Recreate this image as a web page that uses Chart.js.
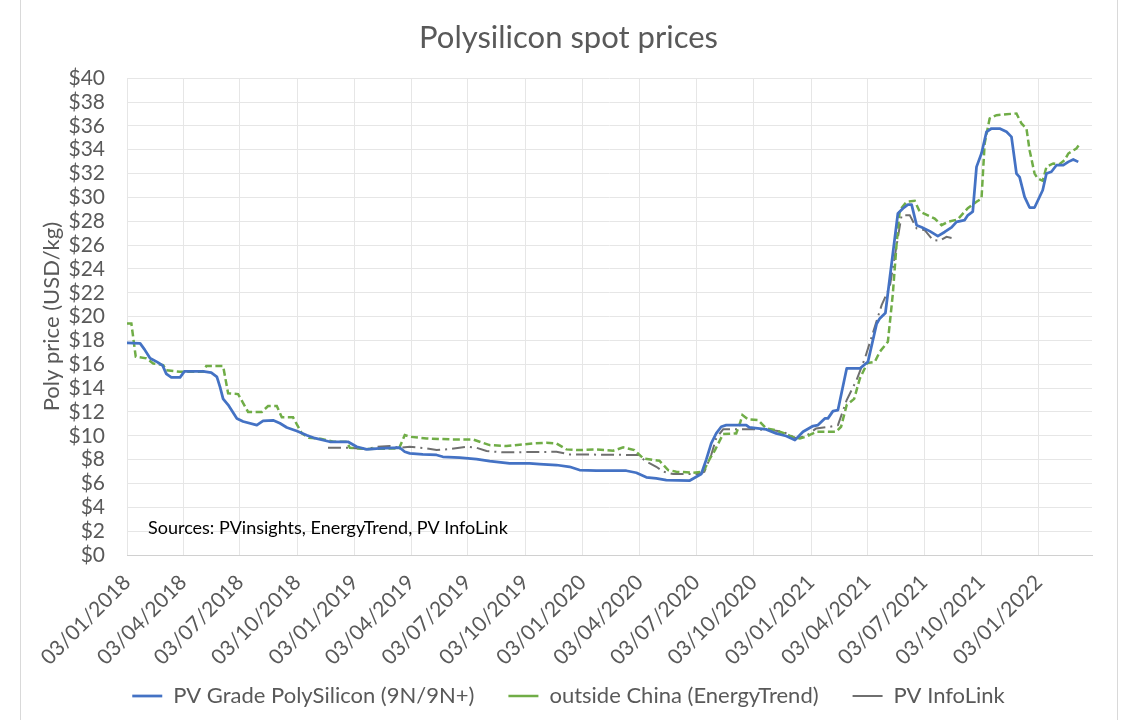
<!DOCTYPE html>
<html>
<head>
<meta charset="utf-8">
<script src="https://cdn.jsdelivr.net/npm/chart.js@4.4.1/dist/chart.umd.min.js"></script>
<style>
html, body { margin: 0; padding: 0; background: #ffffff; }
#wrap { position: relative; width: 1127px; height: 720px; overflow: hidden; }
#frame { position: absolute; left: 20px; top: -2px; width: 1096px; height: 723px; border: 1px solid #d9d9d9; pointer-events: none; }
canvas { display: block; }
</style>
</head>
<body>
<div id="wrap"><canvas id="chart" width="1127" height="720"></canvas><div id="frame"></div></div>
<script>
const chartTitle = 'Polysilicon spot prices';
const yAxisTitle = 'Poly price (USD/kg)';
const sourcesNote = 'Sources: PVinsights, EnergyTrend, PV InfoLink';
const seriesNames = ['PV Grade PolySilicon (9N/9N+)', 'outside China (EnergyTrend)', 'PV InfoLink'];

const xTickLabels = ['03/01/2018','03/04/2018','03/07/2018','03/10/2018','03/01/2019','03/04/2019','03/07/2019','03/10/2019',
  '03/01/2020','03/04/2020','03/07/2020','03/10/2020','03/01/2021','03/04/2021','03/07/2021','03/10/2021','03/01/2022'];
const xRangeStart = '2018-01-03';
const xRangeEnd = '2022-03-29';
const yTickValues = [0,2,4,6,8,10,12,14,16,18,20,22,24,26,28,30,32,34,36,38,40];

// PV Grade PolySilicon (9N/9N+)
const blueDates = [
  '2018-01-03','2018-01-24','2018-01-31','2018-02-09','2018-02-20','2018-03-01','2018-03-07','2018-03-15',
  '2018-03-29','2018-04-05','2018-05-05','2018-05-18','2018-05-27','2018-06-01','2018-06-06','2018-06-14',
  '2018-06-28','2018-07-08','2018-07-30','2018-08-09','2018-08-25','2018-09-05','2018-09-16','2018-10-02',
  '2018-10-18','2018-10-31','2018-11-24','2018-12-23','2019-01-06','2019-01-22','2019-02-12','2019-03-16',
  '2019-03-24','2019-04-01','2019-04-22','2019-05-14','2019-05-24','2019-06-20','2019-07-17','2019-08-07',
  '2019-09-08','2019-10-10','2019-10-26','2019-11-22','2019-12-13','2019-12-29','2020-01-25','2020-03-13',
  '2020-03-29','2020-04-14','2020-04-30','2020-05-16','2020-06-22','2020-07-11','2020-07-19','2020-07-27',
  '2020-08-04','2020-08-12','2020-08-20','2020-09-21','2020-09-26','2020-10-23','2020-11-08','2020-11-24',
  '2020-12-08','2020-12-21','2021-01-06','2021-01-14','2021-01-25','2021-01-30','2021-02-07','2021-02-15',
  '2021-03-01','2021-03-22','2021-04-04','2021-04-18','2021-04-23','2021-05-02','2021-05-22','2021-05-30',
  '2021-06-07','2021-06-13','2021-06-21','2021-06-29','2021-07-12','2021-07-25','2021-08-05','2021-08-16',
  '2021-08-24','2021-09-06','2021-09-11','2021-09-19','2021-09-25','2021-10-03','2021-10-11','2021-10-19',
  '2021-11-01','2021-11-12','2021-11-20','2021-11-28','2021-12-03','2021-12-11','2021-12-19','2021-12-27',
  '2022-01-09','2022-01-15','2022-01-23','2022-01-31','2022-02-11','2022-02-19','2022-02-27','2022-03-07'];
const blueValues = [
  17.8, 17.75, 17.25, 16.5, 16.2, 15.9, 15.2, 14.9,
  14.9, 15.4, 15.4, 15.3, 14.95, 14.1, 13.1, 12.6,
  11.45, 11.2, 10.9, 11.25, 11.3, 11.05, 10.7, 10.4,
  10.05, 9.8, 9.5, 9.5, 9.08, 8.86, 8.95, 9.0,
  8.66, 8.53, 8.44, 8.39, 8.24, 8.16, 8.05, 7.88,
  7.69, 7.69, 7.63, 7.55, 7.4, 7.13, 7.07, 7.07,
  6.9, 6.52, 6.43, 6.29, 6.23, 6.79, 8.0, 9.37,
  10.2, 10.76, 10.9, 10.9, 10.7, 10.54, 10.2, 9.98,
  9.64, 10.34, 10.82, 10.9, 11.46, 11.46, 12.07, 12.16,
  15.65, 15.65, 16.2, 19.4, 19.85, 20.3, 28.65, 29.07,
  29.4, 29.4, 27.67, 27.5, 27.17, 26.75, 27.1, 27.48,
  27.95, 28.1, 28.5, 28.8, 32.56, 33.7, 35.5, 35.78,
  35.78, 35.5, 35.08, 32.0, 31.7, 30.05, 29.15, 29.15,
  30.6, 32.0, 32.15, 32.7, 32.7, 32.98, 33.18, 32.98];

// outside China (EnergyTrend)
const greenDates = [
  '2018-01-03','2018-01-10','2018-01-17','2018-02-03','2018-02-14','2018-03-02','2018-03-07','2018-03-29',
  '2018-05-05','2018-05-10','2018-06-06','2018-06-14','2018-06-30','2018-07-16','2018-08-07','2018-08-17',
  '2018-08-31','2018-09-08','2018-09-26','2018-10-10','2018-10-21','2018-11-09','2018-11-30','2018-12-21',
  '2018-12-26','2019-01-22','2019-03-15','2019-03-24','2019-04-01','2019-04-28','2019-06-04','2019-07-11',
  '2019-07-22','2019-08-07','2019-09-03','2019-09-24','2019-10-15','2019-11-06','2019-11-22','2019-12-08',
  '2019-12-27','2020-01-25','2020-02-21','2020-03-08','2020-03-26','2020-04-09','2020-04-25','2020-05-05',
  '2020-05-19','2020-06-01','2020-06-28','2020-07-14','2020-07-25','2020-08-02','2020-08-10','2020-08-15',
  '2020-09-05','2020-09-11','2020-09-15','2020-09-24','2020-10-10','2020-10-23','2020-11-06','2020-11-24',
  '2020-12-05','2020-12-16','2020-12-26','2021-01-06','2021-01-11','2021-02-12','2021-02-20','2021-03-01',
  '2021-03-13','2021-03-22','2021-04-03','2021-04-15','2021-04-23','2021-05-06','2021-05-14','2021-05-20',
  '2021-05-25','2021-06-05','2021-06-18','2021-06-26','2021-07-09','2021-07-20','2021-07-31','2021-08-10',
  '2021-08-26','2021-09-11','2021-09-25','2021-10-03','2021-10-08','2021-10-16','2021-10-27','2021-11-12',
  '2021-11-28','2021-12-06','2021-12-14','2021-12-19','2021-12-27','2022-01-01','2022-01-09','2022-01-15',
  '2022-01-26','2022-02-05','2022-02-13','2022-02-19','2022-03-04','2022-03-08'];
const greenValues = [
  19.43, 19.43, 16.63, 16.5, 16.07, 15.93, 15.5, 15.37,
  15.37, 15.85, 15.85, 13.56, 13.5, 12.0, 12.0, 12.5,
  12.5, 11.55, 11.55, 10.2, 9.84, 9.75, 9.5, 9.5,
  9.0, 8.89, 8.95, 10.06, 9.92, 9.78, 9.7, 9.7,
  9.5, 9.22, 9.14, 9.25, 9.36, 9.42, 9.36, 8.86,
  8.8, 8.86, 8.75, 9.03, 8.8, 8.1, 7.97, 7.91,
  7.13, 6.99, 6.9, 6.99, 8.1, 8.8, 9.64, 10.15,
  10.2, 11.05, 11.74, 11.38, 11.32, 10.62, 10.48, 10.15,
  9.87, 9.78, 9.92, 10.2, 10.34, 10.34, 10.76, 12.58,
  13.1, 14.8, 16.1, 16.2, 17.05, 17.89, 21.95, 26.14,
  28.93, 29.63, 29.71, 28.8, 28.5, 28.23, 27.67, 27.95,
  28.15, 29.1, 29.63, 29.9, 34.52, 36.62, 36.9, 36.98,
  37.04, 36.2, 35.78, 33.96, 32.0, 31.59, 31.39, 32.56,
  32.85, 32.79, 33.12, 33.68, 34.1, 34.38];

// PV InfoLink
const grayDates = [
  '2018-11-21','2018-12-26','2019-01-22','2019-02-07','2019-02-28','2019-03-16','2019-04-01','2019-04-28',
  '2019-05-14','2019-06-04','2019-07-01','2019-07-17','2019-08-02','2019-08-29','2019-11-22','2019-12-13',
  '2020-04-01','2020-04-14','2020-04-30','2020-05-11','2020-05-27','2020-07-08','2020-07-16','2020-07-27',
  '2020-08-04','2020-08-15','2020-10-07','2020-10-29','2020-11-19','2020-12-10','2020-12-26','2021-01-11',
  '2021-02-02','2021-02-15','2021-03-01','2021-03-17','2021-03-31','2021-04-10','2021-04-26','2021-05-09',
  '2021-05-28','2021-06-10','2021-06-21','2021-07-04','2021-07-17','2021-07-28','2021-08-08','2021-08-16'];
const grayValues = [
  9.0, 9.0, 8.86, 9.08, 9.14, 9.0, 9.08, 8.95,
  8.8, 8.89, 9.08, 9.0, 8.72, 8.61, 8.66, 8.44,
  8.39, 7.83, 7.4, 6.99, 6.79, 6.79, 6.99, 8.4,
  9.8, 10.54, 10.54, 10.48, 10.34, 9.78, 9.98, 10.62,
  10.76, 10.9, 13.0, 14.7, 16.63, 18.31, 20.96, 22.5,
  28.51, 28.51, 27.4, 27.25, 26.42, 26.36, 26.69, 26.6];

const toMs = s => Date.parse(s + 'T00:00:00Z');
const toPoints = (dates, values) => dates.map((d, i) => ({ x: toMs(d), y: values[i] }));
const parseTick = l => { const p = l.split('/').map(Number); return Date.UTC(p[2], p[1] - 1, p[0]); };
const tickValues = xTickLabels.map(parseTick);
const labelFor = v => { const i = tickValues.indexOf(v); return i >= 0 ? xTickLabels[i] : ''; };

const FONT = 'Lato';
const GREY_TEXT = '#595959';

const sourcesPlugin = {
  id: 'sourcesNote',
  beforeDraw(chart) {
    // let the rotated date labels run past the axis box (as in the original)
    chart.scales.x._computeLabelArea = () => undefined;
  },
  afterDatasetsDraw(chart) {
    const { ctx, chartArea } = chart;
    ctx.save();
    ctx.font = '18px ' + FONT;
    ctx.fillStyle = '#000000';
    ctx.textAlign = 'left';
    ctx.textBaseline = 'middle';
    ctx.fillText(sourcesNote, chartArea.left + 21, chartArea.bottom - 27);
    ctx.restore();
  }
};

new Chart(document.getElementById('chart'), {
  type: 'line',
  data: {
    datasets: [
      { label: seriesNames[0], data: toPoints(blueDates, blueValues), borderColor: '#4472C4', backgroundColor: '#4472C4',
        borderWidth: 2.75, pointRadius: 0, tension: 0, borderJoinStyle: 'round' },
      { label: seriesNames[1], data: toPoints(greenDates, greenValues), borderColor: '#70AD47', backgroundColor: '#70AD47',
        borderWidth: 2.5, borderDash: [7, 3.5], pointRadius: 0, tension: 0 },
      { label: seriesNames[2], data: toPoints(grayDates, grayValues), borderColor: '#6f6f6f', backgroundColor: '#6f6f6f',
        borderWidth: 2, borderDash: [13, 5, 2, 5], pointRadius: 0, tension: 0 }
    ]
  },
  options: {
    responsive: false,
    animation: false,
    events: [],
    layout: { padding: { left: 20, right: 10, top: 0, bottom: 3 } },
    plugins: {
      title: { display: true, text: chartTitle, color: GREY_TEXT,
        font: { family: FONT, size: 31, weight: 'normal' }, padding: { top: 19, bottom: 22 } },
      legend: { position: 'bottom',
        labels: { usePointStyle: true, pointStyle: 'line', pointStyleWidth: 30, boxHeight: 19, padding: 34,
          color: GREY_TEXT, font: { family: FONT, size: 22 } } },
      tooltip: { enabled: false }
    },
    scales: {
      x: {
        type: 'linear',
        min: toMs(xRangeStart),
        max: toMs(xRangeEnd),
        afterBuildTicks: s => { s.ticks = tickValues.map(v => ({ value: v })); },
        afterFit: s => { s.height = 96; },
        grid: { color: '#e6e6e6', drawTicks: false },
        border: { color: '#d0d0d0', width: 1 },
        ticks: { autoSkip: false, maxRotation: 45, minRotation: 45, padding: 15, color: GREY_TEXT,
          font: { family: FONT, size: 21 }, callback: v => labelFor(v) }
      },
      y: {
        min: 0, max: 40,
        afterBuildTicks: s => { s.ticks = yTickValues.map(v => ({ value: v })); },
        afterFit: s => { s.width = 107; },
        grid: { color: '#e6e6e6', drawTicks: false },
        border: { display: false },
        ticks: { autoSkip: false, padding: 22, color: GREY_TEXT, font: { family: FONT, size: 21 }, callback: v => '$' + v },
        title: { display: true, text: yAxisTitle, color: GREY_TEXT, font: { family: FONT, size: 22 }, padding: { top: 19, bottom: 0 } }
      },
      yR: {
        position: 'right',
        afterFit: s => { s.width = 25; },
        grid: { display: false, drawTicks: false },
        border: { display: false },
        ticks: { display: false }
      }
    }
  },
  plugins: [sourcesPlugin]
});
</script>
</body>
</html>
